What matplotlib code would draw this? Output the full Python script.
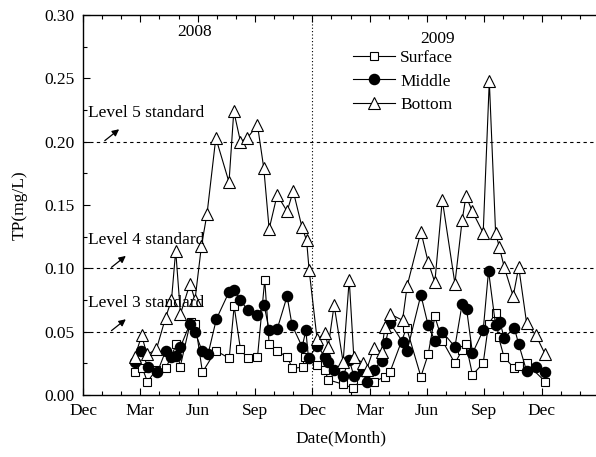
import matplotlib
matplotlib.use("Agg")
import matplotlib.pyplot as plt
from matplotlib.ticker import MultipleLocator, FixedLocator

plt.rcParams['font.family'] = ['Liberation Serif', 'DejaVu Serif']

# months counted from 1 Dec 2007
surface_m = [2.71, 3.11, 3.37, 3.84, 4.33, 4.89, 5.08, 5.63, 5.88, 6.25, 6.95, 7.65, 7.91,
             8.24, 8.61, 9.13, 9.51, 9.74, 10.14, 10.68, 10.96, 11.49, 11.60, 12.25, 12.65,
             12.83, 13.61, 14.14, 14.55, 15.22, 15.82, 16.06, 16.93, 17.68, 18.06, 18.41,
             18.80, 19.46, 19.84, 20.04, 20.38, 20.94, 21.22, 21.59, 21.75, 22.03, 22.57,
             22.80, 23.21, 24.19]
surface_v = [0.018, 0.021, 0.0105, 0.020, 0.021, 0.040, 0.022, 0.058, 0.056, 0.018, 0.035,
             0.029, 0.070, 0.036, 0.029, 0.030, 0.091, 0.040, 0.035, 0.030, 0.021, 0.022,
             0.030, 0.024, 0.020, 0.012, 0.0085, 0.0053, 0.012, 0.0105, 0.0145, 0.018, 0.053,
             0.0145, 0.032, 0.062, 0.043, 0.025, 0.0355, 0.040, 0.016, 0.025, 0.056, 0.0645,
             0.0455, 0.030, 0.021, 0.023, 0.025, 0.0105]

middle_m = [2.71, 3.06, 3.40, 3.89, 4.33, 4.63, 4.89, 5.10, 5.59, 5.85, 6.23, 6.54, 6.98,
            7.63, 7.91, 8.24, 8.61, 9.13, 9.48, 9.74, 10.16, 10.68, 10.94, 11.47, 11.66,
            11.80, 12.25, 12.67, 12.83, 13.14, 13.61, 13.93, 14.17, 14.63, 14.84, 15.22,
            15.62, 15.83, 16.06, 16.72, 16.96, 17.68, 18.06, 18.41, 18.80, 19.46, 19.84,
            20.07, 20.38, 20.94, 21.22, 21.59, 21.82, 22.03, 22.57, 22.80, 23.21, 23.70, 24.19]
middle_v = [0.026, 0.035, 0.022, 0.018, 0.035, 0.030, 0.031, 0.038, 0.056, 0.050, 0.035,
            0.032, 0.060, 0.081, 0.083, 0.075, 0.067, 0.063, 0.071, 0.051, 0.052, 0.078,
            0.055, 0.038, 0.051, 0.029, 0.039, 0.030, 0.026, 0.020, 0.015, 0.028, 0.015,
            0.019, 0.010, 0.020, 0.027, 0.041, 0.057, 0.042, 0.035, 0.079, 0.055, 0.043,
            0.050, 0.038, 0.072, 0.068, 0.033, 0.051, 0.098, 0.055, 0.058, 0.045, 0.053,
            0.040, 0.019, 0.022, 0.018]

bottom_m = [2.71, 3.07, 3.35, 3.84, 4.32, 4.63, 4.85, 5.10, 5.60, 5.86, 6.20, 6.49, 6.95,
            7.64, 7.89, 8.24, 8.60, 9.13, 9.46, 9.74, 10.16, 10.68, 11.00, 11.45, 11.70,
            11.83, 12.25, 12.67, 12.83, 13.14, 13.61, 13.93, 14.17, 14.63, 14.84, 15.22,
            15.62, 15.80, 16.06, 16.72, 16.96, 17.68, 18.06, 18.41, 18.80, 19.46, 19.84,
            20.04, 20.37, 20.94, 21.26, 21.59, 21.78, 22.04, 22.51, 22.80, 23.21, 23.70, 24.19]
bottom_v = [0.030, 0.047, 0.032, 0.036, 0.061, 0.075, 0.114, 0.064, 0.088, 0.075, 0.118,
            0.143, 0.203, 0.168, 0.224, 0.200, 0.203, 0.213, 0.179, 0.131, 0.158, 0.145,
            0.161, 0.133, 0.122, 0.099, 0.044, 0.049, 0.038, 0.071, 0.026, 0.091, 0.030,
            0.0255, 0.020, 0.037, 0.034, 0.054, 0.064, 0.059, 0.086, 0.129, 0.105, 0.089,
            0.154, 0.088, 0.138, 0.157, 0.145, 0.128, 0.248, 0.128, 0.117, 0.101, 0.078,
            0.101, 0.057, 0.047, 0.032]

month_ticks = [0, 3, 6, 9, 12, 15, 18, 21, 24]
month_labels = ['Dec', 'Mar', 'Jun', 'Sep', 'Dec', 'Mar', 'Jun', 'Sep', 'Dec']

standards = [0.05, 0.10, 0.20]
standard_labels = ['Level 3 standard', 'Level 4 standard', 'Level 5 standard']
arrow_start = [1.49, 1.49, 1.14]

fs = 12.5

fig = plt.figure(figsize=(5.96, 4.57), dpi=100)
ax = fig.add_axes([83 / 596, 1 - 395 / 457, (599 - 83) / 596, 380 / 457])

ax.plot(surface_m, surface_v, '-', color='black', lw=0.8, marker='s', ms=6.3,
        mfc='white', mec='black', mew=0.8, label='Surface')
ax.plot(middle_m, middle_v, '-', color='black', lw=0.8, marker='o', ms=7.3,
        mfc='black', mec='black', label='Middle')
ax.plot(bottom_m, bottom_v, '-', color='black', lw=0.8, marker='^', ms=8.3,
        mfc='white', mec='black', mew=0.8, label='Bottom')

# standard lines and the year divider
for s in standards:
    ax.axhline(s, color='black', lw=0.8, ls=(0, (3, 3)), zorder=0)
ax.axvline(12, color='black', lw=0.8, ls=(0, (1, 2)), zorder=0)

for s, lab, x0 in zip(standards, standard_labels, arrow_start):
    ax.text(0.25, s + 0.0225, lab, fontsize=fs, va='center', ha='left')
    ax.annotate('', xy=(x0 + 0.75, s + 0.0098), xytext=(x0, s + 0.0008),
                arrowprops=dict(arrowstyle='-|>', color='black', lw=0.9,
                                mutation_scale=10, shrinkA=0, shrinkB=0))

ax.text(0.217, 0.955, '2008', transform=ax.transAxes, fontsize=fs, ha='center', va='center')
ax.text(0.688, 0.938, '2009', transform=ax.transAxes, fontsize=fs, ha='center', va='center')

ax.legend(loc='upper left', bbox_to_anchor=(0.50, 0.94), frameon=False, fontsize=fs,
          handlelength=2.4, handletextpad=0.3, labelspacing=0.42, borderpad=0.2)

ax.set_xlim(0, 27)
ax.set_ylim(0, 0.30)
ax.xaxis.set_major_locator(FixedLocator(month_ticks))
ax.set_xticklabels(month_labels)
ax.xaxis.set_minor_locator(MultipleLocator(1))
ax.yaxis.set_major_locator(MultipleLocator(0.05))
ax.yaxis.set_minor_locator(MultipleLocator(0.025))
ax.yaxis.set_major_formatter(plt.FormatStrFormatter('%.2f'))
ax.tick_params(which='both', direction='in', top=True, right=False, labelsize=fs)
ax.tick_params(which='major', length=5, width=0.8, pad=6)
ax.tick_params(which='minor', length=3, width=0.8)
ax.spines['right'].set_visible(False)
for sp in ax.spines.values():
    sp.set_linewidth(1.0)

ax.set_xlabel('Date(Month)', fontsize=fs, labelpad=8)
ax.set_ylabel('TP(mg/L)', fontsize=fs, labelpad=12)

fig.savefig('out.png', dpi=100)
